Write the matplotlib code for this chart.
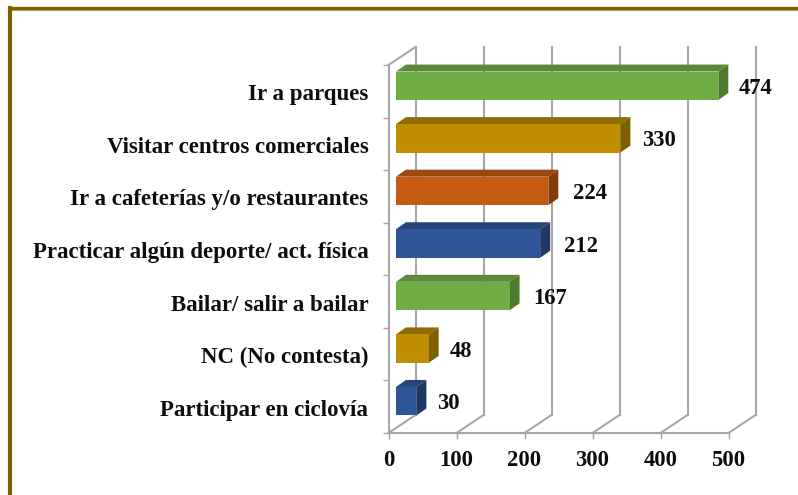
import matplotlib
matplotlib.use("Agg")
import matplotlib.pyplot as plt
from matplotlib.lines import Line2D
from matplotlib.patches import Polygon
from matplotlib.transforms import ScaledTranslation

plt.rcParams["font.family"] = ["Liberation Serif", "DejaVu Serif"]

labels = [
    "Ir a parques",
    "Visitar centros comerciales",
    "Ir a cafeterías y/o restaurantes",
    "Practicar algún deporte/ act. física",
    "Bailar/ salir a bailar",
    "NC (No contesta)",
    "Participar en ciclovía",
]
values = [474, 330, 224, 212, 167, 48, 30]
xticks = [0, 100, 200, 300, 400, 500]

# front, top, side
green = ("#70ad47", "#5d8a3a", "#4e7a2e")
gold = ("#bf8f00", "#8f6b00", "#7f6000")
orange = ("#c55a11", "#9c470d", "#843c0c")
blue = ("#2f5597", "#264478", "#203864")
colors = [green, gold, orange, blue, green, gold, blue]
# gap between bar and its number, px
label_gap = [10, 12, 15, 14, 14, 11, 11]

W, H = 798, 495
X0, X1, Y0, Y1 = 388.5, 728.5, 65, 433
FS = 16.3
fig = plt.figure(figsize=(W / 100, H / 100), dpi=100)
ax = fig.add_axes([X0 / W, 1 - Y1 / H, (X1 - X0) / W, (Y1 - Y0) / H])
ax.set_xlim(0, 500)
ax.set_ylim(6.5, -0.5)

# px to data units
ux = 500 / (X1 - X0)
uy = 7 / (Y1 - Y0)
wall_dx, wall_dy = 27 * ux, 18 * uy
bar_x0 = 7.5 * ux
bar_h = 28.5 * uy
bar_shift = -5.5 * uy
dep_x, dep_y = 10 * ux, 7 * uy

grid = "#a6a6a6"
lw = 1.5
for t in xticks:
    ax.plot([t, t + wall_dx], [6.5, 6.5 - wall_dy], color=grid, lw=lw, clip_on=False, zorder=1)
    ax.plot([t + wall_dx, t + wall_dx], [6.5 - wall_dy, -0.5 - wall_dy], color=grid, lw=lw, clip_on=False, zorder=1)
ax.plot([0, wall_dx], [-0.5, -0.5 - wall_dy], color=grid, lw=lw, clip_on=False, zorder=1)

for i, (v, c) in enumerate(zip(values, colors)):
    x0 = bar_x0
    x1 = bar_x0 + v
    top = i + bar_shift - bar_h / 2
    bot = i + bar_shift + bar_h / 2
    ax.add_patch(Polygon([(x0, top), (x1, top), (x1 + dep_x, top - dep_y), (x0 + dep_x, top - dep_y)],
                         fc=c[1], ec="none", zorder=3, clip_on=False))
    ax.add_patch(Polygon([(x1, top), (x1 + dep_x, top - dep_y), (x1 + dep_x, bot - dep_y), (x1, bot)],
                         fc=c[2], ec="none", zorder=3, clip_on=False))
    ax.add_patch(Polygon([(x0, top), (x1, top), (x1, bot), (x0, bot)],
                         fc=c[0], ec="none", zorder=4, clip_on=False))
    ax.annotate(str(v), (x1 + dep_x, i + bar_shift), xytext=(label_gap[i] * 0.72, -2.5 * 0.72),
                textcoords="offset points", ha="left", va="center",
                fontsize=FS, fontweight="bold", color="#0d0d0d", zorder=6)

for s in ["top", "right"]:
    ax.spines[s].set_visible(False)
for s in ["left", "bottom"]:
    ax.spines[s].set_color(grid)
    ax.spines[s].set_linewidth(lw)

ax.set_xticks(xticks)
ax.set_xticklabels([str(t) for t in xticks], fontsize=FS, fontweight="bold", color="#0d0d0d")
ax.set_yticks([i - 0.5 for i in range(8)])
ax.set_yticklabels([])
ax.tick_params(axis="x", length=4, width=1, color=grid, pad=8)
ax.tick_params(axis="y", length=4, width=1, color=grid)
ax.set_yticks(range(7), minor=True)
ax.set_yticklabels(labels, minor=True, fontsize=16.5, fontweight="bold", color="#0d0d0d")
ax.tick_params(axis="y", which="minor", length=0, pad=14.5)
# names sit 1px lower than the band centre
shift = ScaledTranslation(0, -1 / 100, fig.dpi_scale_trans)
for t in ax.get_yticklabels(minor=True):
    t.set_transform(t.get_transform() + shift)

# brown frame round the picture
for xs, ys, c, w in [
    ([10 / W, 10 / W], [1 - 7.5 / H, 0], "#7f6000", 3),
    ([10 / W, 1], [1 - 7.5 / H, 1 - 7.5 / H], "#7f6000", 2.4),
    ([12 / W, 1], [1 - 9.5 / H, 1 - 9.5 / H], "#b09a50", 0.8),
]:
    fig.add_artist(Line2D(xs, ys, color=c, lw=w, transform=fig.transFigure))

fig.savefig("out.png", dpi=100)
